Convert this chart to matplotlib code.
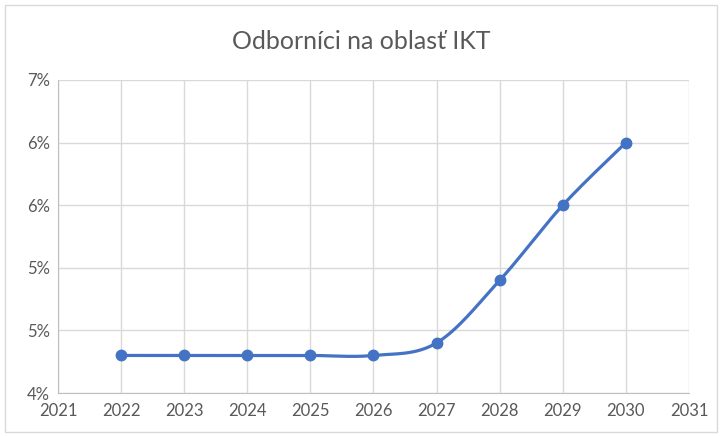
import numpy as np
import matplotlib.pyplot as plt
from matplotlib.ticker import FuncFormatter

years = [2022, 2023, 2024, 2025, 2026, 2027, 2028, 2029, 2030]
share = [4.3, 4.3, 4.3, 4.3, 4.3, 4.4, 4.9, 5.5, 6.0]
title = 'Odborníci na oblasť IKT'

blue = '#4472C4'
plt.rcParams['font.family'] = ['Lato', 'DejaVu Sans']


def smooth(x, y, n=30):
    # Excel-like smoothed line: Catmull-Rom via cubic Bezier segments
    x = np.asarray(x, float)
    y = np.asarray(y, float)
    px = np.concatenate([[x[0]], x, [x[-1]]])
    py = np.concatenate([[y[0]], y, [y[-1]]])
    xs, ys = [], []
    t = np.linspace(0, 1, n)
    for i in range(1, len(px) - 2):
        p0 = np.array([px[i], py[i]])
        p3 = np.array([px[i + 1], py[i + 1]])
        c1 = p0 + (np.array([px[i + 1], py[i + 1]]) - np.array([px[i - 1], py[i - 1]])) / 6
        c2 = p3 - (np.array([px[i + 2], py[i + 2]]) - np.array([px[i], py[i]])) / 6
        b = ((1 - t) ** 3)[:, None] * p0 + (3 * (1 - t) ** 2 * t)[:, None] * c1 \
            + (3 * (1 - t) * t ** 2)[:, None] * c2 + (t ** 3)[:, None] * p3
        xs.extend(b[:, 0])
        ys.extend(b[:, 1])
    return xs, ys


fig = plt.figure(figsize=(7.22, 4.36), dpi=100)
ax = fig.add_axes([0.0803, 0.0986, 0.874, 0.718])

sx, sy = smooth(years, share)
ax.plot(sx, sy, color=blue, lw=2.3, solid_capstyle='round', zorder=3)
ax.plot(years, share, 'o', color=blue, ms=7.5, zorder=4)

ax.set_xlim(2021, 2031)
ax.set_ylim(4.0, 6.5)
ax.set_xticks(range(2021, 2032))
ax.set_yticks(np.arange(4.0, 6.51, 0.5))
ax.yaxis.set_major_formatter(FuncFormatter(lambda v, p: '%d%%' % int(np.floor(v + 0.5))))
ax.grid(color='#d9d9d9', lw=1)
ax.set_axisbelow(True)
for s in ['top', 'right']:
    ax.spines[s].set_visible(False)
for s in ['left', 'bottom']:
    ax.spines[s].set_color('#bfbfbf')
ax.tick_params(length=0, labelsize=12, colors='#595959', pad=7)
ax.tick_params(axis='y', pad=6)

fig.text(0.5, 0.905, title, ha='center', va='center', fontsize=18, color='#595959')
fig.patches.append(plt.Rectangle((0.007, 0.01), 0.986, 0.978, transform=fig.transFigure,
                                 fill=False, edgecolor='#d9d9d9', lw=1))

fig.savefig('out.png')
